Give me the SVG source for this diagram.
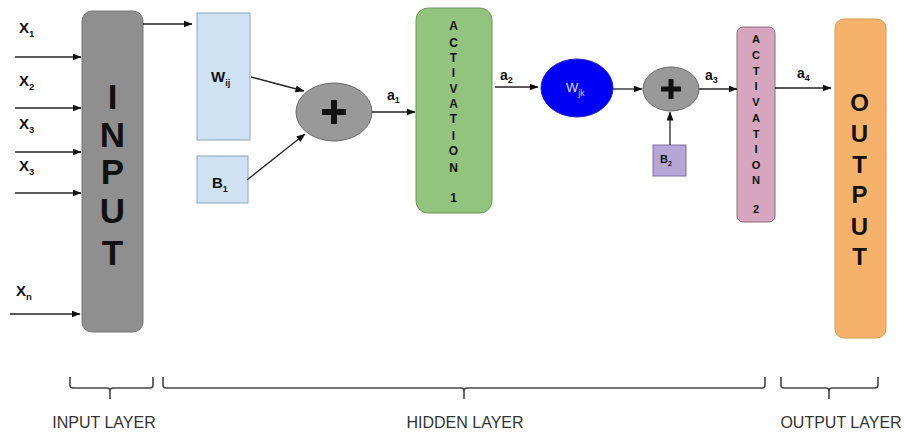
<svg xmlns="http://www.w3.org/2000/svg" width="904" height="436" viewBox="0 0 904 436">
<style>
.t{font-family:"Liberation Sans",Arial,sans-serif;font-weight:bold;fill:#111}
.big{font-size:35px;text-anchor:middle}
.out{font-size:24px;text-anchor:middle}
.act{font-size:12px;text-anchor:middle}
.act2{font-size:11px;text-anchor:middle}
.x{font-size:15px}
.sub{font-size:9.5px}
.lbl{font-family:"Liberation Sans",Arial,sans-serif;font-size:16px;fill:#333;text-anchor:middle}
.ln{stroke:#222;stroke-width:1.3;fill:none}
.br{stroke:#444;stroke-width:1.6;fill:none}
</style>
<defs>
<marker id="ah" markerWidth="9" markerHeight="7" refX="8.5" refY="3.5" orient="auto" markerUnits="userSpaceOnUse">
<path d="M0,0 L9,3.5 L0,7 z" fill="#111"/>
</marker>
</defs>
<rect width="904" height="436" fill="#fff"/>

<g id="input">
<rect x="82" y="11" width="61" height="321" rx="10" fill="#8f8f8f" stroke="#777" stroke-width="1"/>
<text class="t big" x="112.5" y="109">I</text>
<text class="t big" x="112.5" y="147">N</text>
<text class="t big" x="112.5" y="184">P</text>
<text class="t big" x="112.5" y="223">U</text>
<text class="t big" x="112.5" y="265">T</text>
</g>

<g id="xlabels">
<text class="t x" x="19" y="33">X<tspan class="sub" dy="4">1</tspan></text>
<text class="t x" x="19" y="86">X<tspan class="sub" dy="4">2</tspan></text>
<text class="t x" x="19" y="129">X<tspan class="sub" dy="4">3</tspan></text>
<text class="t x" x="19" y="171">X<tspan class="sub" dy="4">3</tspan></text>
<text class="t x" x="16" y="296">X<tspan class="sub" dy="4">n</tspan></text>
</g>

<g id="wij">
<rect x="197" y="13" width="53" height="127" fill="#cfe2f3" stroke="#8aa4bd" stroke-width="1"/>
<text class="t" x="211" y="82" font-size="15">W<tspan font-size="9" dy="4">ij</tspan></text>
</g>
<g id="b1">
<rect x="197" y="156" width="51" height="47" fill="#cfe2f3" stroke="#8aa4bd" stroke-width="1"/>
<text class="t" x="212" y="188" font-size="15">B<tspan font-size="9" dy="4">1</tspan></text>
</g>
<g id="plus1">
<ellipse cx="334" cy="112" rx="38" ry="29" fill="#999" stroke="#666" stroke-width="1"/>
<path d="M334,100 V124 M322,112 H346" stroke="#111" stroke-width="6"/>
</g>

<g id="act1">
<rect x="416" y="8" width="76" height="205" rx="12" fill="#93c47d" stroke="#6a9955" stroke-width="1"/>
<text class="t act" x="453.5" y="30">A</text>
<text class="t act" x="453.5" y="47">C</text>
<text class="t act" x="453.5" y="62">T</text>
<text class="t act" x="453.5" y="77">I</text>
<text class="t act" x="453.5" y="93">V</text>
<text class="t act" x="453.5" y="108">A</text>
<text class="t act" x="453.5" y="123">T</text>
<text class="t act" x="453.5" y="140">I</text>
<text class="t act" x="453.5" y="155">O</text>
<text class="t act" x="453.5" y="172">N</text>
<text class="t act" x="453.5" y="202">1</text>
</g>

<g id="wjk">
<ellipse cx="577" cy="88" rx="36" ry="29" fill="#0000f5" stroke="#2222cc" stroke-width="1"/>
<text x="566" y="92" font-family="Liberation Sans,Arial,sans-serif" font-size="13" fill="#dde">W<tspan font-size="8.5" dy="4">jk</tspan></text>
</g>
<g id="plus2">
<ellipse cx="671" cy="89" rx="28" ry="22" fill="#999" stroke="#666" stroke-width="1"/>
<path d="M671,79 V99 M661,89 H681" stroke="#111" stroke-width="5"/>
</g>
<g id="b2">
<rect x="653" y="145" width="33" height="31" fill="#b4a7d6" stroke="#7e6fa8" stroke-width="1"/>
<text class="t" x="660" y="163" font-size="11">B<tspan font-size="7" dy="3">2</tspan></text>
</g>

<g id="act2">
<rect x="737" y="27" width="38" height="195" rx="6" fill="#d5a6bd" stroke="#8a6a7a" stroke-width="1"/>
<text class="t act2" x="756" y="43">A</text>
<text class="t act2" x="756" y="59">C</text>
<text class="t act2" x="756" y="75">T</text>
<text class="t act2" x="756" y="90">I</text>
<text class="t act2" x="756" y="106">V</text>
<text class="t act2" x="756" y="122">A</text>
<text class="t act2" x="756" y="138">T</text>
<text class="t act2" x="756" y="153">I</text>
<text class="t act2" x="756" y="169">O</text>
<text class="t act2" x="756" y="184">N</text>
<text class="t act2" x="756" y="213">2</text>
</g>

<g id="output">
<rect x="835" y="19" width="51" height="319" rx="9" fill="#f6b26b" stroke="#d99a55" stroke-width="1"/>
<text class="t out" x="859.5" y="111">O</text>
<text class="t out" x="859.5" y="142">U</text>
<text class="t out" x="859.5" y="173">T</text>
<text class="t out" x="859.5" y="203">P</text>
<text class="t out" x="859.5" y="235">U</text>
<text class="t out" x="859.5" y="265">T</text>
</g>

<g id="connectors">
<line class="ln" x1="15" y1="57" x2="81" y2="57" marker-end="url(#ah)"/>
<line class="ln" x1="15" y1="108" x2="81" y2="108" marker-end="url(#ah)"/>
<line class="ln" x1="15" y1="152" x2="81" y2="152" marker-end="url(#ah)"/>
<line class="ln" x1="15" y1="193" x2="81" y2="193" marker-end="url(#ah)"/>
<line class="ln" x1="10" y1="314" x2="80" y2="314" marker-end="url(#ah)"/>
<line class="ln" x1="143" y1="24" x2="192" y2="24" marker-end="url(#ah)"/>
<line class="ln" x1="251" y1="77" x2="304" y2="91" marker-end="url(#ah)"/>
<line class="ln" x1="247" y1="180" x2="305" y2="134" marker-end="url(#ah)"/>
<line class="ln" x1="372" y1="112" x2="415" y2="112" marker-end="url(#ah)"/>
<line class="ln" x1="495" y1="87" x2="538" y2="87" marker-end="url(#ah)"/>
<line class="ln" x1="613" y1="89" x2="642" y2="89" marker-end="url(#ah)"/>
<line class="ln" x1="699" y1="89" x2="737" y2="89" marker-end="url(#ah)"/>
<line class="ln" x1="670" y1="145" x2="670" y2="112" marker-end="url(#ah)"/>
<line class="ln" x1="775" y1="88" x2="831" y2="88" marker-end="url(#ah)"/>
<text class="t" x="387" y="100" font-size="14">a<tspan font-size="9" dy="3">1</tspan></text>
<text class="t" x="500" y="80" font-size="14">a<tspan font-size="9" dy="3">2</tspan></text>
<text class="t" x="705" y="80" font-size="14">a<tspan font-size="9" dy="3">3</tspan></text>
<text class="t" x="797" y="78" font-size="14">a<tspan font-size="9" dy="3">4</tspan></text>
</g>

<g id="braces">
<path class="br" d="M70,377 V385 Q70,388 73,388 H107 Q110,388 110,391 V399 M110,391 Q110,388 113,388 H150 Q153,388 153,385 V377"/>
<path class="br" d="M163,377 V385 Q163,388 166,388 H461 Q464,388 464,391 V399 M464,391 Q464,388 467,388 H762 Q765,388 765,385 V377"/>
<path class="br" d="M781,377 V385 Q781,388 784,388 H826 Q829,388 829,391 V399 M829,391 Q829,388 832,388 H875 Q878,388 878,385 V377"/>
<text class="lbl" x="104" y="428">INPUT LAYER</text>
<text class="lbl" x="465" y="428">HIDDEN LAYER</text>
<text class="lbl" x="841" y="428">OUTPUT LAYER</text>
</g>
</svg>
